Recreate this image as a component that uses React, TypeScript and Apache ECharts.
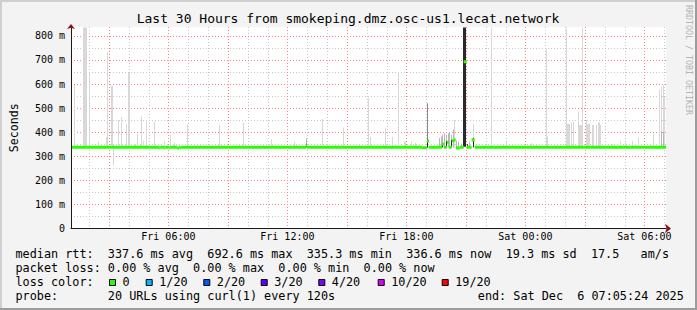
import React, { useEffect, useRef } from "react";
import * as echarts from "echarts";

const W = 697;
const H = 310;
const FONT = "DejaVu Sans Mono";

const TITLE = "Last 30 Hours from smokeping.dmz.osc-us1.lecat.network";

// x axis: hours since Fri 00:00 (start Fri 01:05:24, end Sat 07:05:24)
const X_MIN = 1.09;
const X_MAX = 31.09;
const Y_MIN = 0;
const Y_MAX = 837; // ms
const Y_TICK_STEP = 100;

const X_LABEL_HOURS = [6, 12, 18, 24, 30];
const X_LABELS = ["Fri 06:00", "Fri 12:00", "Fri 18:00", "Sat 00:00", "Sat 06:00"];
const X_MAJOR_GRID = [3, 6, 9, 12, 15, 18, 21, 24, 27, 30];
const X_MINOR_GRID = [2, 4, 5, 7, 8, 10, 11, 13, 14, 16, 17, 19, 20, 22, 23, 25, 26, 28, 29, 31];
const Y_MAJOR_GRID = [100, 200, 300, 400, 500, 600, 700, 800];
const Y_MINOR_GRID = [50, 150, 250, 350, 450, 550, 650, 750];

// smoke: [hour, low ms, high ms, density level 1..4]
const SMOKE: number[][] = [
  [1.14, 336, 835, 1], [1.29, 336, 596, 1],
  [1.74, 336, 835, 1], [1.79, 336, 835, 1], [1.84, 336, 835, 1], [1.89, 336, 835, 1],
  [2.04, 336, 645, 1], [2.49, 336, 360, 1], [2.89, 336, 380, 1], [2.94, 336, 732, 1],
  [3.14, 336, 593, 1], [3.19, 336, 593, 1], [3.24, 261, 345, 1], [3.49, 336, 451, 1],
  [3.64, 336, 463, 1], [3.89, 336, 434, 1], [3.99, 336, 645, 1], [4.04, 336, 645, 1],
  [4.29, 336, 351, 1], [4.34, 336, 351, 1], [4.44, 336, 393, 1], [4.64, 336, 465, 1],
  [4.74, 336, 365, 1], [4.89, 336, 451, 1], [5.29, 336, 444, 1], [5.54, 336, 347, 1],
  [5.79, 336, 365, 1], [6.09, 336, 389, 1], [6.29, 336, 357, 1], [6.94, 336, 432, 1],
  [8.59, 336, 430, 1], [9.79, 336, 440, 1], [11.19, 336, 370, 1], [12.34, 336, 360, 1],
  [12.94, 336, 375, 2], [12.94, 338, 352, 4], [13.79, 336, 455, 1], [14.04, 336, 352, 1],
  [14.84, 336, 420, 1], [16.09, 336, 540, 1], [16.19, 336, 380, 1], [16.94, 336, 418, 1],
  [17.29, 336, 380, 1], [17.59, 336, 651, 1], [17.89, 336, 361, 1], [17.94, 336, 361, 1],
  [18.24, 336, 361, 1], [18.44, 336, 355, 1],
  [19.09, 336, 520, 3], [19.09, 336, 372, 4],
  [19.69, 336, 376, 2], [19.79, 336, 382, 2], [19.84, 336, 389, 2], [19.84, 338, 352, 4],
  [19.94, 336, 396, 2], [20.04, 336, 389, 2], [20.04, 338, 362, 4], [20.14, 336, 396, 2],
  [20.19, 336, 402, 2], [20.29, 336, 389, 2], [20.29, 340, 368, 4], [20.39, 336, 412, 2],
  [20.44, 336, 451, 1], [20.54, 336, 365, 2], [20.64, 336, 360, 2], [20.79, 336, 352, 2],
  [20.89, 340, 835, 4], [20.94, 340, 835, 4], [20.99, 340, 835, 4],
  [21.09, 336, 350, 4], [21.19, 336, 360, 2], [21.39, 336, 434, 1], [21.39, 338, 376, 4],
  [22.29, 336, 835, 1], [23.04, 336, 360, 1], [24.29, 336, 355, 1],
  [25.04, 336, 748, 1], [25.09, 336, 382, 1],
  [26.09, 336, 835, 1], [26.14, 336, 434, 1], [26.19, 336, 434, 1], [26.24, 336, 434, 1],
  [26.34, 336, 440, 1], [26.44, 336, 444, 1], [26.69, 336, 486, 1], [26.74, 336, 430, 1],
  [26.79, 336, 430, 1], [26.84, 336, 430, 1], [26.89, 336, 835, 1], [27.09, 336, 451, 1],
  [27.14, 336, 434, 1], [27.19, 336, 434, 1], [27.24, 336, 434, 1], [27.39, 336, 430, 1],
  [27.44, 336, 430, 1], [27.59, 336, 430, 1], [27.69, 336, 440, 1], [27.74, 336, 440, 1],
  [27.79, 336, 430, 1], [28.39, 336, 351, 1], [28.79, 336, 361, 1], [29.04, 336, 357, 1],
  [29.39, 336, 365, 1], [29.69, 336, 378, 1], [30.44, 336, 393, 1],
  [30.74, 336, 576, 1], [30.84, 336, 589, 1], [30.94, 336, 595, 1], [30.99, 336, 548, 1],
  [30.84, 338, 402, 2], [30.94, 338, 402, 2],
];

// median rtt: [start hour, end hour, ms]
const MEDIAN: number[][] = [
  [1.09, 5.54, 338], [5.54, 5.59, 334], [5.59, 5.79, 338], [5.79, 5.84, 334],
  [5.84, 6.04, 338], [6.04, 6.09, 335], [6.09, 6.44, 338], [6.44, 6.54, 334],
  [6.54, 6.59, 338], [6.59, 6.64, 335], [6.64, 12.94, 338], [12.94, 12.99, 346],
  [12.99, 18.79, 338], [18.79, 19.04, 335], [19.04, 19.14, 363], [19.14, 19.79, 338],
  [19.79, 19.89, 351], [19.89, 20.04, 338], [20.04, 20.14, 358], [20.14, 20.29, 338],
  [20.29, 20.39, 365], [20.39, 20.49, 368], [20.49, 20.69, 334], [20.69, 20.89, 338],
  [20.89, 21.04, 692.6], [21.04, 21.29, 338], [21.29, 21.44, 368], [21.44, 31.09, 338],
];

const RTT_LINE = "median rtt:  337.6 ms avg  692.6 ms max  335.3 ms min  336.6 ms now  19.3 ms sd  17.5   am/s";
const LOSS_LINE = "packet loss: 0.00 % avg  0.00 % max  0.00 % min  0.00 % now";
const LOSS_TITLE = "loss color:";
const LOSS_LABELS = ["0", "1/20", "2/20", "3/20", "4/20", "10/20", "19/20"];
const LOSS_COLORS = ["#26ff00", "#00b8ff", "#0059ff", "#5e00ff", "#7e00ff", "#dd00ff", "#ff0000"];
const PROBE_LINE = "probe:       20 URLs using curl(1) every 120s";
const END_LINE = "end: Sat Dec  6 07:05:24 2025";
const WATERMARK = "RRDTOOL / TOBI OETIKER";

const SMOKE_SHADES = ["#d8d8d8", "#d8d8d8", "#b8b8b8", "#8a8a8a", "#2a2a2a"];
const MEDIAN_COLOR = "#26ff00";
const LEGEND_FS = 11.8;
const CW = LEGEND_FS * 0.602;
const LEGEND_X = 15.5;
const LOSS_BOX_X = [109, 145.7, 203.3, 260.7, 318.3, 377.7, 441.7];

function monoChunks(line: string, x0: number, y: number): any[] {
  const out: any[] = [];
  const re = /\S+(?: \S+)*/g;
  let m: RegExpExecArray | null;
  while ((m = re.exec(line))) {
    out.push({
      type: "text",
      x: x0 + m.index * CW,
      y,
      silent: true,
      style: { text: m[0], fontFamily: FONT, fontSize: LEGEND_FS, fill: "#000", align: "left", verticalAlign: "middle" },
    });
  }
  return out;
}

function buildOption(): any {
  const vGrid = (color: string) => (params: any, api: any) => {
    const cs = params.coordSys;
    const x = Math.round(api.coord([api.value(0), Y_MIN])[0]) + 0.5;
    return {
      type: "line",
      silent: true,
      shape: { x1: x, y1: cs.y, x2: x, y2: cs.y + cs.height },
      style: { stroke: color, lineWidth: 1, lineDash: [1, 2] },
    };
  };
  const hGrid = (color: string) => (params: any, api: any) => {
    const cs = params.coordSys;
    const y = Math.round(api.coord([X_MIN, api.value(1)])[1]) + 0.5;
    return {
      type: "line",
      silent: true,
      shape: { x1: cs.x, y1: y, x2: cs.x + cs.width + 2, y2: y },
      style: { stroke: color, lineWidth: 1, lineDash: [1, 2] },
    };
  };

  const graphic: any[] = [
    { type: "rect", silent: true, shape: { x: 0, y: 0, width: W, height: 2 }, style: { fill: "#cfcfcf" } },
    { type: "rect", silent: true, shape: { x: 0, y: 0, width: 2, height: H }, style: { fill: "#cfcfcf" } },
    { type: "rect", silent: true, shape: { x: 0, y: H - 2, width: W, height: 2 }, style: { fill: "#9c9c9c" } },
    { type: "rect", silent: true, shape: { x: W - 2, y: 0, width: 2, height: H }, style: { fill: "#9c9c9c" } },
    {
      type: "text", x: 348, y: 18.5, silent: true,
      style: { text: TITLE, fontFamily: FONT, fontSize: 13, fill: "#000", align: "center", verticalAlign: "middle" },
    },
    {
      type: "text", x: 688.5, y: 5, rotation: -Math.PI / 2, silent: true,
      style: { text: WATERMARK, fontFamily: FONT, fontSize: 8.3, fill: "#b4b4b4", align: "left", verticalAlign: "middle" },
    },
    ...monoChunks(RTT_LINE, LEGEND_X, 254.2),
    ...monoChunks(LOSS_LINE, LEGEND_X, 268.0),
    ...monoChunks(LOSS_TITLE, LEGEND_X, 281.8),
    ...monoChunks(PROBE_LINE, LEGEND_X, 295.6),
    ...monoChunks(END_LINE, 477.8, 295.6),
  ];
  LOSS_LABELS.forEach((lab, i) => {
    const bx = LOSS_BOX_X[i];
    graphic.push({
      type: "rect", silent: true,
      shape: { x: bx + 0.5, y: 279.5, width: 6, height: 6 },
      style: { fill: LOSS_COLORS[i], stroke: "#000", lineWidth: 1 },
    });
    graphic.push({
      type: "text", x: bx + 13.5, y: 281.8, silent: true,
      style: { text: lab, fontFamily: FONT, fontSize: LEGEND_FS, fill: "#000", align: "left", verticalAlign: "middle" },
    });
  });

  const axisCommonX = { type: "value", min: X_MIN, max: X_MAX, position: "bottom", offset: 0, z: 10 };
  const axisCommonY = { type: "value", min: Y_MIN, max: Y_MAX, interval: Y_TICK_STEP, position: "left", offset: 0, z: 10 };

  return {
    animation: false,
    backgroundColor: "#f3f3f3",
    textStyle: { fontFamily: FONT },
    grid: { left: 66, top: 27, width: 600, height: 201.5, show: true, backgroundColor: "#ffffff", borderWidth: 0 },
    xAxis: [
      {
        ...axisCommonX,
        axisLine: { show: true, lineStyle: { color: "#1a1a1a", width: 1 } },
        axisTick: { show: false },
        splitLine: { show: false },
        axisLabel: {
          customValues: X_LABEL_HOURS,
          margin: 3,
          fontSize: 10,
          fontFamily: FONT,
          color: "#000",
          formatter: (v: number) => {
            const i = X_LABEL_HOURS.findIndex((h) => Math.abs(h - v) < 0.01);
            return i >= 0 ? X_LABELS[i] : "";
          },
        },
      },
      {
        ...axisCommonX,
        axisLine: { show: true, symbol: ["none", "arrow"], symbolSize: [7, 6], symbolOffset: [0, 5], lineStyle: { color: "#8b1111", width: 0 } },
        axisTick: { show: false },
        axisLabel: { show: false },
        splitLine: { show: false },
      },
    ],
    yAxis: [
      {
        ...axisCommonY,
        name: "Seconds",
        nameLocation: "middle",
        nameGap: 51,
        nameTextStyle: { fontFamily: FONT, fontSize: 11.6, color: "#000" },
        axisLine: { show: true, lineStyle: { color: "#1a1a1a", width: 1 } },
        axisTick: { show: false },
        splitLine: { show: false },
        axisLabel: {
          margin: 6,
          fontSize: 10,
          fontFamily: FONT,
          color: "#000",
          formatter: (v: number) => (v % 100 !== 0 ? "" : v === 0 ? "0" : `${v} m`),
        },
      },
      {
        ...axisCommonY,
        axisLine: { show: true, symbol: ["none", "arrow"], symbolSize: [6, 5], symbolOffset: [0, 3], lineStyle: { color: "#8b1111", width: 0 } },
        axisTick: { show: false },
        axisLabel: { show: false },
        splitLine: { show: false },
      },
    ],
    graphic,
    series: [
      { type: "custom", z: 1, silent: true, data: X_MINOR_GRID.map((h) => [h, 0]), renderItem: vGrid("#c8c8c8") },
      { type: "custom", z: 1, silent: true, data: Y_MINOR_GRID.map((v) => [X_MIN, v]), renderItem: hGrid("#c8c8c8") },
      { type: "custom", z: 1, silent: true, data: X_MAJOR_GRID.map((h) => [h, 0]), renderItem: vGrid("#ff8080") },
      { type: "custom", z: 1, silent: true, data: Y_MAJOR_GRID.map((v) => [X_MIN, v]), renderItem: hGrid("#ff8080") },
      {
        type: "custom", z: 2, silent: true, clip: true,
        data: SMOKE,
        renderItem: (params: any, api: any) => {
          const h = api.value(0);
          const top = api.coord([h, api.value(2)]);
          const bot = api.coord([h, api.value(1)]);
          return {
            type: "rect",
            shape: { x: Math.floor(top[0]), y: top[1], width: 1, height: bot[1] - top[1] },
            style: { fill: SMOKE_SHADES[api.value(3)] },
          };
        },
      },
      {
        type: "custom", z: 3, silent: true, clip: true,
        data: MEDIAN,
        renderItem: (params: any, api: any) => {
          const a = api.coord([api.value(0), api.value(2)]);
          const b = api.coord([api.value(1), api.value(2)]);
          return {
            type: "rect",
            shape: { x: a[0], y: a[1] - 1.5, width: b[0] - a[0], height: 3 },
            style: { fill: MEDIAN_COLOR },
          };
        },
      },
    ],
  };
}

export default function App() {
  const ref = useRef<HTMLDivElement>(null);
  useEffect(() => {
    if (!ref.current) return;
    const chart = echarts.init(ref.current, null, { renderer: "svg", width: W, height: H });
    chart.setOption(buildOption());
    return () => chart.dispose();
  }, []);
  return <div ref={ref} style={{ position: "fixed", left: 0, top: 0, width: W, height: H }} />;
}
